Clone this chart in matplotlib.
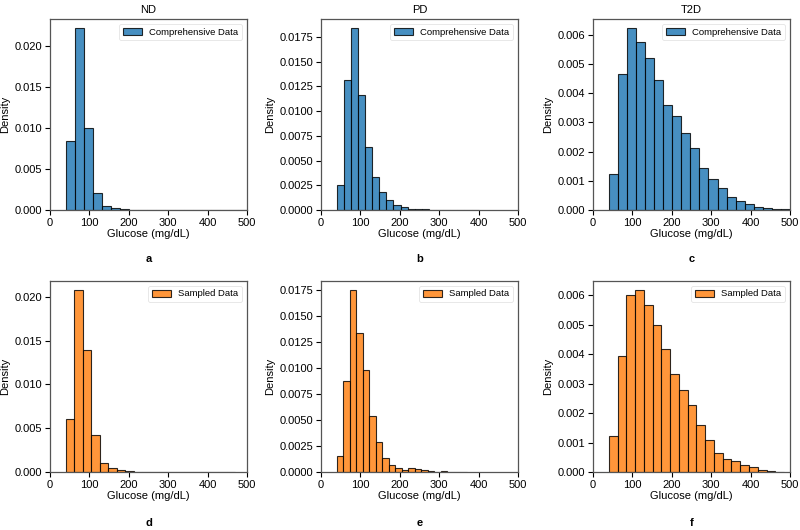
import numpy as np
import matplotlib
matplotlib.use("Agg")
import matplotlib.pyplot as plt

plt.rcParams['font.family'] = ['Liberation Sans', 'DejaVu Sans']

groups = ["ND", "PD", "T2D"]
panel_letters = [["a", "b", "c"], ["d", "e", "f"]]
series_labels = ["Comprehensive Data", "Sampled Data"]

# bin ranges (min, max) of glucose for each histogram, 20 bins each
comp_ranges = [(40, 500), (40, 400), (40, 500)]
samp_ranges = [(40, 470), (40, 370), (40, 485)]

nd_comp = [0.00837, 0.02215, 0.00996, 0.00211, 0.00053, 0.00020, 0.00012, 0.00006,
           0.00003, 0.00002, 0.00001, 0.00001, 0.000005, 0.000005, 0.000003, 0.000003,
           0.000002, 0.000002, 0.000001, 0.000001]
pd_comp = [0.00253, 0.01317, 0.01841, 0.01162, 0.00638, 0.00331, 0.00182, 0.00101,
           0.00050, 0.00027, 0.00014, 0.00010, 0.00006, 0.00004, 0.00003, 0.00002,
           0.00001, 0.00001, 0.00001, 0.00001]
t2d_comp = [0.00122, 0.00466, 0.00623, 0.00577, 0.00519, 0.00445, 0.00360, 0.00323,
            0.00263, 0.00214, 0.00143, 0.00107, 0.00077, 0.00043, 0.00032, 0.00021,
            0.00011, 0.00008, 0.00003, 0.00002]

nd_samp = [0.00606, 0.02076, 0.01398, 0.00419, 0.00103, 0.00042, 0.00020, 0.00010,
           0.00005, 0.00003, 0.00002, 0.00001, 0.00001, 0.000005, 0.000003, 0.000002,
           0.000002, 0.000001, 0.000001, 0.000001]
pd_samp = [0.00150, 0.00873, 0.01749, 0.01339, 0.00982, 0.00536, 0.00285, 0.00135,
           0.00070, 0.00038, 0.00022, 0.00041, 0.00032, 0.00015, 0.00005, 0.00002,
           0.00008, 0.00002, 0.00002, 0.00001]
t2d_samp = [0.00124, 0.00393, 0.00601, 0.00618, 0.00567, 0.00498, 0.00418, 0.00332,
            0.00279, 0.00226, 0.00161, 0.00109, 0.00063, 0.00044, 0.00037, 0.00024,
            0.00016, 0.00007, 0.00002, 0.00001]

rows = [
    (series_labels[0], comp_ranges, [nd_comp, pd_comp, t2d_comp], '#1f77b4'),
    (series_labels[1], samp_ranges, [nd_samp, pd_samp, t2d_samp], '#ff7f0e'),
]

W, H = 800, 530
fig = plt.figure(figsize=(8, 5.3), dpi=100)

col_left = [50, 321, 593]
ax_w = 197
row_top = [19, 281]
ax_h = 191

for r, (label, ranges, data, color) in enumerate(rows):
    for c in range(3):
        left = col_left[c] / W
        bottom = 1 - (row_top[r] + ax_h) / H
        ax = fig.add_axes([left, bottom, ax_w / W, ax_h / H])
        lo, hi = ranges[c]
        heights = np.asarray(data[c])
        edges = np.linspace(lo, hi, len(heights) + 1)
        ax.bar(edges[:-1], heights, width=np.diff(edges), align='edge',
               color=color, edgecolor='black', linewidth=0.8, alpha=0.82,
               label=label)
        ax.set_xlim(0, 500)
        ax.set_xticks([0, 100, 200, 300, 400, 500])
        ax.tick_params(labelsize=8, length=3.5, width=0.8, pad=2)
        ax.set_xlabel("Glucose (mg/dL)", fontsize=8, labelpad=1)
        ax.set_ylabel("Density", fontsize=8, labelpad=3)
        for s in ax.spines.values():
            s.set_color('#555555')
            s.set_linewidth(0.9)
        leg = ax.legend(loc='upper right', fontsize=6.8, frameon=True,
                        handlelength=2.0, borderpad=0.4, handletextpad=0.8)
        leg.get_frame().set_edgecolor('#dddddd')
        leg.get_frame().set_linewidth(0.6)
        if r == 0:
            ax.set_title(groups[c], fontsize=8, pad=4)
        cx = (col_left[c] + ax_w / 2) / W
        ty = 1 - (259 if r == 0 else 523) / H
        fig.text(cx, ty, panel_letters[r][c], ha='center', va='center',
                 fontsize=8, fontweight='bold')

fig.savefig("out.png", dpi=100)
